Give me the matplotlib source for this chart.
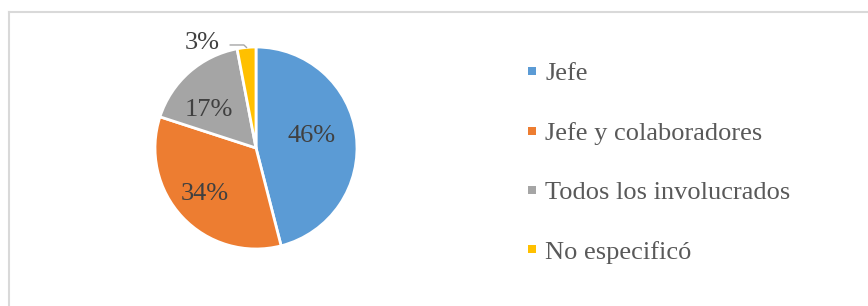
import matplotlib
matplotlib.use("Agg")
import matplotlib.pyplot as plt
from matplotlib.lines import Line2D
import numpy as np

categories = ["Jefe", "Jefe y colaboradores", "Todos los involucrados", "No especificó"]
values = [46, 34, 17, 3]
colors = ["#5B9BD5", "#ED7D31", "#A5A5A5", "#FFC000"]

plt.rcParams['font.family'] = ['Liberation Serif', 'DejaVu Serif']

W, H = 868, 306
fig = plt.figure(figsize=(W / 100, H / 100), dpi=100)

# border (top and left visible)
fig.add_artist(Line2D([8.5 / W, 1], [1 - 11.5 / H, 1 - 11.5 / H], color="#D9D9D9", lw=1.5))
fig.add_artist(Line2D([8.5 / W, 8.5 / W], [0, 1 - 11.5 / H], color="#D9D9D9", lw=1.5))

cx, cy, r = 256, 148, 101
ax = fig.add_axes([(cx - r) / W, (H - cy - r) / H, 2 * r / W, 2 * r / H])

wedges, _ = ax.pie(values, colors=colors, startangle=90, counterclock=False,
                   radius=1.0, wedgeprops=dict(edgecolor="white", linewidth=2))
ax.set_xlim(-1, 1)
ax.set_ylim(-1, 1)
ax.set_aspect("equal")
ax.axis("off")

# (distance, angle shift) of the in-slice labels
label_pos = [(0.567, 7.0), (0.668, -3.0), (0.618, 8.2)]
for w, v, (d, sh) in zip(wedges[:3], values[:3], label_pos):
    ang = np.deg2rad((w.theta1 + w.theta2) / 2 + sh)
    ax.text(d * np.cos(ang), d * np.sin(ang) - 0.025, f"{v}%", ha="center", va="center",
            fontsize=19, color="#404040")

# small slice label outside with leader line
w = wedges[3]
ang = np.deg2rad((w.theta1 + w.theta2) / 2)
ex, ey = np.cos(ang), np.sin(ang)
ax.plot([-0.255, -0.12, ex], [1.02, 1.02, ey], color="#A6A6A6", lw=1, clip_on=False)
ax.text(-0.53, 1.035, f"{values[3]}%", ha="center", va="center", fontsize=19,
        color="#404040", clip_on=False)

handles = [Line2D([], [], ls="none", marker="s", markersize=5.2, color=c,
                  markeredgewidth=0) for c in colors]
leg = fig.legend(handles, categories, loc="upper left",
                 bbox_to_anchor=(524 / W, 1 - 62 / H), frameon=False,
                 fontsize=19, labelcolor="#595959",
                 handlelength=0.6, handletextpad=0.2,
                 labelspacing=1.36, borderpad=0, borderaxespad=0)

fig.savefig("out.png", dpi=100)
